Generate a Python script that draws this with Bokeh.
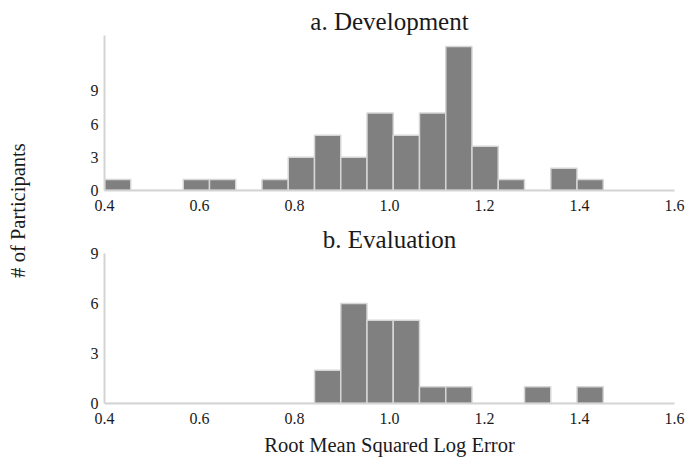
import numpy as np
from bokeh.plotting import figure
from bokeh.layouts import row, column
from bokeh.models import Range1d, FixedTicker, Label
from bokeh.embed import file_html
from bokeh.resources import INLINE

# ---- data ----
bin_start = 0.4
bin_end = 1.45
n_bins = 19
dev_counts = [1, 0, 0, 1, 1, 0, 1, 3, 5, 3, 7, 5, 7, 13, 4, 1, 0, 2, 1]
eval_counts = [0, 0, 0, 0, 0, 0, 0, 0, 2, 6, 5, 5, 1, 1, 0, 0, 1, 0, 1]
x_ticks = [0.4, 0.6, 0.8, 1.0, 1.2, 1.4, 1.6]
y_ticks_dev = [0, 3, 6, 9]
y_ticks_eval = [0, 3, 6, 9]
title_dev = "a. Development"
title_eval = "b. Evaluation"
x_label = "Root Mean Squared Log Error"
y_label = "# of Participants"

edges = np.linspace(bin_start, bin_end, n_bins + 1)
FONT = "Liberation Serif"
BAR = "#808080"
EDGE = "#d6d6d6"
AXIS = "#d4d4d4"
TXT = "#1a1a1a"


def make_panel(counts, title, ymax, yticks, height, top, bottom, xlabel=None):
    p = figure(width=648, height=height, output_backend="svg", toolbar_location=None,
               x_range=Range1d(0.4, 1.6), y_range=Range1d(0, ymax),
               min_border_left=66, min_border_right=12,
               min_border_top=top, min_border_bottom=bottom, title=title)
    p.title.align = "center"
    p.title.text_font = FONT
    p.title.text_font_size = "25px"
    p.title.text_font_style = "normal"
    p.title.text_color = TXT
    p.title.standoff = 2
    p.quad(left=edges[:-1], right=edges[1:], bottom=0, top=counts,
           fill_color=BAR, line_color=EDGE, line_width=1.5)
    p.outline_line_color = None
    p.xgrid.visible = False
    p.ygrid.visible = False
    for ax in (p.xaxis[0], p.yaxis[0]):
        ax.axis_line_color = AXIS
        ax.axis_line_width = 2
        ax.major_tick_line_color = None
        ax.minor_tick_line_color = None
        ax.major_tick_out = 0
        ax.major_tick_in = 0
        ax.major_label_text_font = FONT
        ax.major_label_text_font_size = "16px"
        ax.major_label_text_color = TXT
    p.xaxis[0].ticker = FixedTicker(ticks=x_ticks)
    p.xaxis[0].major_label_standoff = 9
    p.xaxis[0].major_label_overrides = {t: f"{t:.1f}" for t in x_ticks}
    p.yaxis[0].ticker = FixedTicker(ticks=yticks)
    p.yaxis[0].major_label_standoff = 6
    if xlabel:
        p.xaxis[0].axis_label = xlabel
        p.xaxis[0].axis_label_text_font = FONT
        p.xaxis[0].axis_label_text_font_size = "20.5px"
        p.xaxis[0].axis_label_text_font_style = "normal"
        p.xaxis[0].axis_label_text_color = TXT
        p.xaxis[0].axis_label_standoff = 7
    return p


pa = make_panel(dev_counts, title_dev, 14, y_ticks_dev, 222, 35, 32)
pb = make_panel(eval_counts, title_eval, 9, y_ticks_eval, 239, 30, 58, x_label)

# y label column
H = 461
pl = figure(width=38, height=H, output_backend="svg", toolbar_location=None,
            x_range=Range1d(0, 38), y_range=Range1d(0, H),
            min_border=0, min_border_left=0, min_border_right=0,
            min_border_top=0, min_border_bottom=0)
pl.axis.visible = False
pl.grid.visible = False
pl.outline_line_color = None
pl.add_layout(Label(x=17, y=H - 210, text=y_label, angle=np.pi / 2,
                    text_align="center", text_baseline="middle",
                    text_font=FONT, text_font_size="20.5px", text_color=TXT))

layout = row(pl, column(pa, pb))
open("out.html", "w").write(file_html(layout, INLINE))
